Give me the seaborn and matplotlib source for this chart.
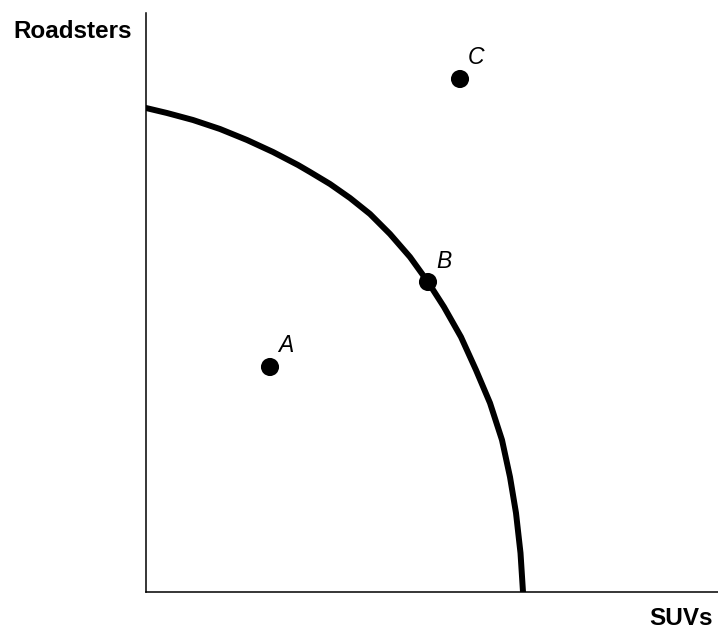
import pandas as pd
import matplotlib
matplotlib.use('Agg')
import matplotlib.pyplot as plt
import seaborn as sns

# frontier curve (SUVs, Roadsters)
suvs = [0, 21, 47, 74, 101, 127, 152, 164, 184, 204, 224, 244, 264, 282,
        298, 315, 330, 344, 356, 364, 370, 374.5, 377]
roadsters = [484, 479, 472, 463, 452, 440, 427, 420, 408, 394, 378, 358, 335, 310,
             285, 255, 222, 189, 152, 115, 79, 39, 0]

# labelled points
point_names = ['A', 'B', 'C']
point_suvs = [124, 282, 314]
point_roadsters = [225, 310, 513]

sns.set_style('white')
plt.rcParams['font.family'] = ['Liberation Sans', 'DejaVu Sans']
plt.rcParams['text.color'] = 'black'

fig = plt.figure(figsize=(7.18, 6.29), dpi=100)
ax = fig.add_axes([146 / 718, 37 / 629, 572 / 718, 579 / 629])

curve = pd.DataFrame({'SUVs': suvs, 'Roadsters': roadsters})
sns.lineplot(data=curve, x='SUVs', y='Roadsters', sort=False, estimator=None,
             color='black', linewidth=4.3, solid_joinstyle='round', ax=ax)

pts = pd.DataFrame({'name': point_names, 'SUVs': point_suvs, 'Roadsters': point_roadsters})
sns.scatterplot(data=pts, x='SUVs', y='Roadsters', color='black', s=170,
                edgecolor='none', ax=ax, zorder=5)
for _, r in pts.iterrows():
    ax.annotate(r['name'], (r['SUVs'], r['Roadsters']), xytext=(16, 21),
                textcoords='offset pixels', ha='center', va='center',
                fontsize=16.5, fontstyle='italic', color='black')

ax.set_xlim(0, 572)
ax.set_ylim(0, 579)
ax.set_xticks([])
ax.set_yticks([])
ax.set_xlabel('')
ax.set_ylabel('')
sns.despine(ax=ax)
for side in ['left', 'bottom']:
    ax.spines[side].set_color('black')
    ax.spines[side].set_linewidth(1.1)

fig.text(13 / 718, 1 - 38.5 / 629, 'Roadsters', ha='left', va='baseline',
         fontsize=17.5, fontweight='bold', color='black')
fig.text(713 / 718, 1 - 625 / 629, 'SUVs', ha='right', va='baseline',
         fontsize=17.5, fontweight='bold', color='black')

fig.savefig('out.png', dpi=100, facecolor='white')
